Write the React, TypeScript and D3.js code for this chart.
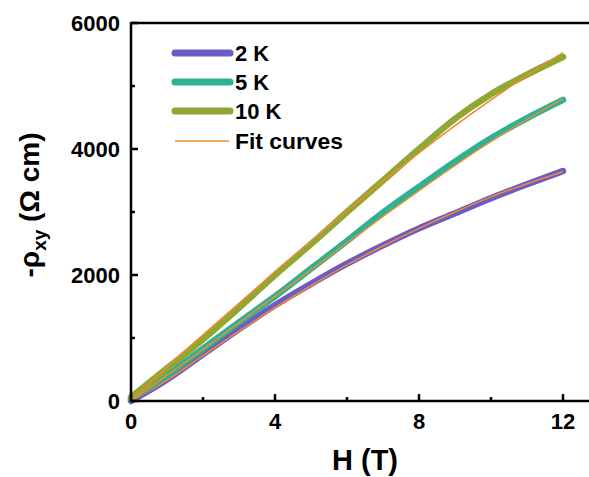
import React from "react";
import * as d3 from "d3";

const fieldT = [0, 1, 2, 3, 4, 5, 6, 7, 8, 9, 10, 11, 12];
const rho2K = [0, 340, 740, 1140, 1520, 1860, 2180, 2470, 2740, 2980, 3220, 3440, 3650];
const rho5K = [30, 410, 830, 1250, 1660, 2100, 2540, 2990, 3400, 3800, 4170, 4490, 4780];
const rho10K = [60, 520, 980, 1480, 2000, 2490, 3000, 3500, 4000, 4480, 4870, 5180, 5460];
const fit2K = [0, 330, 720, 1110, 1480, 1830, 2160, 2460, 2740, 3000, 3240, 3450, 3640];
const fit5K = [0, 410, 820, 1240, 1660, 2080, 2510, 2930, 3340, 3740, 4120, 4470, 4800];
const fit10K = [0, 540, 1050, 1550, 2050, 2540, 3020, 3490, 3940, 4370, 4780, 5170, 5530];

const seriesNames = ["2 K", "5 K", "10 K"];
const seriesColors = ["#6a5cc4", "#2cb295", "#8ea832"];
const fitColor = "#f08a30";
const fitLabel = "Fit curves";

const xTicks = [0, 4, 8, 12];
const xMinor = [2, 6, 10];
const yTicks = [0, 2000, 4000, 6000];
const yMinor = [1000, 3000, 5000];

export default function App() {
  const W = 589, H = 477;
  const x = d3.scaleLinear().domain([0, 13]).range([131, 599]);
  const y = d3.scaleLinear().domain([0, 6000]).range([401, 23]);
  const line = d3
    .line<[number, number]>()
    .x((d) => x(d[0]))
    .y((d) => y(d[1]))
    .curve(d3.curveMonotoneX);
  const mk = (vals: number[]) => line(fieldT.map((t, i) => [t, vals[i]] as [number, number])) || "";
  const data = [rho2K, rho5K, rho10K];
  const fits = [fit2K, fit5K, fit10K];
  const font = "'Liberation Sans', Arial, sans-serif";
  const x0 = x(0), yb = y(0), yt = y(6000);

  return (
    <svg width={W} height={H} style={{ position: "absolute", left: 0, top: 0, background: "#fff" }}>
      {data.map((vals, i) => (
        <g key={i}>
          <path d={mk(vals)} fill="none" stroke={seriesColors[i]} strokeWidth={6.5} strokeLinecap="round" strokeLinejoin="round" />
          <path d={mk(fits[i])} fill="none" stroke={fitColor} strokeWidth={1.6} />
        </g>
      ))}
      <line x1={x0} x2={W} y1={yt} y2={yt} stroke="#000" strokeWidth={2.5} />
      <line x1={x0} x2={W} y1={yb} y2={yb} stroke="#000" strokeWidth={2.5} />
      <line x1={x0} x2={x0} y1={yt - 1} y2={yb + 1} stroke="#000" strokeWidth={2.5} />
      {xTicks.map((t) => (
        <g key={"xt" + t}>
          <line x1={x(t)} x2={x(t)} y1={yb} y2={yb - 7} stroke="#000" strokeWidth={2.5} />
          <text x={x(t)} y={429} textAnchor="middle" fontFamily={font} fontWeight="bold" fontSize={22}>{t}</text>
        </g>
      ))}
      {xMinor.map((t) => (
        <line key={"xm" + t} x1={x(t)} x2={x(t)} y1={yb} y2={yb - 4} stroke="#000" strokeWidth={2.5} />
      ))}
      {yTicks.map((t) => (
        <g key={"yt" + t}>
          <line x1={x0} x2={x0 + 7} y1={y(t)} y2={y(t)} stroke="#000" strokeWidth={2.5} />
          <text x={120} y={y(t) + 8} textAnchor="end" fontFamily={font} fontWeight="bold" fontSize={22}>{t}</text>
        </g>
      ))}
      {yMinor.map((t) => (
        <line key={"ym" + t} x1={x0} x2={x0 + 4} y1={y(t)} y2={y(t)} stroke="#000" strokeWidth={2.5} />
      ))}
      <text x={365} y={470} textAnchor="middle" fontFamily={font} fontWeight="bold" fontSize={29}>H (T)</text>
      <text transform="translate(39,205) rotate(-90)" textAnchor="middle" fontFamily={font} fontWeight="bold" fontSize={28}>
        -ρ<tspan fontSize={19} dy={7}>xy</tspan><tspan dy={-7}> (Ω cm)</tspan>
      </text>
      {seriesNames.map((n, i) => (
        <g key={n}>
          <line x1={175} x2={230} y1={53 + i * 29} y2={53 + i * 29} stroke={seriesColors[i]} strokeWidth={7} strokeLinecap="round" />
          <text x={235} y={53 + i * 29 + 8} fontFamily={font} fontWeight="bold" fontSize={22}>{n}</text>
        </g>
      ))}
      <line x1={175} x2={229} y1={141} y2={141} stroke={fitColor} strokeWidth={1.6} />
      <text x={235} y={149} fontFamily={font} fontWeight="bold" fontSize={22} textLength={108} lengthAdjust="spacingAndGlyphs">{fitLabel}</text>
    </svg>
  );
}
